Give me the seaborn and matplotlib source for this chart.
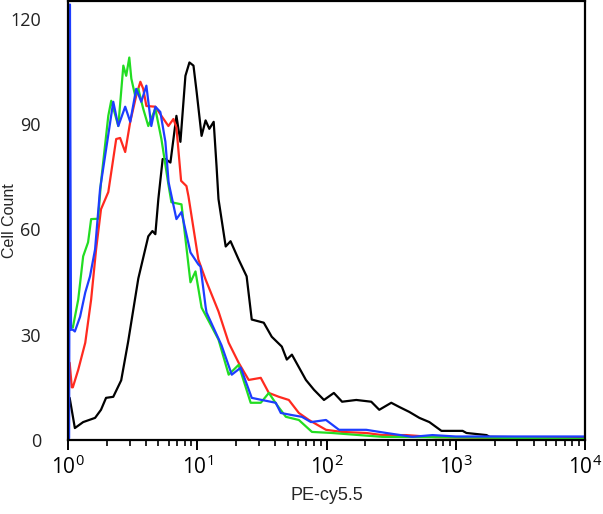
import matplotlib
matplotlib.use("Agg")
import matplotlib.pyplot as plt
import matplotlib.ticker as mticker
import pandas as pd
import seaborn as sns

# histogram traces: (PE-cy5.5 intensity, cell count)
black_x = [1.03, 1.13, 1.31, 1.62, 1.80, 1.97, 2.24, 2.58, 2.92, 3.50, 4.18, 4.50, 4.74,
           5.00, 5.40, 5.67, 6.20, 6.90, 7.41, 8.10, 8.70, 9.35, 9.90, 10.8, 11.6, 12.4,
           13.4, 14.1, 14.6, 16.6, 18.1, 20.9, 24.1, 26.4, 32.7, 37.7, 45.1, 49.3, 54.0,
           69.3, 80.0, 95.6, 114, 132, 170, 222, 256, 317, 366, 437, 523, 625, 775, 1130,
           1210, 1730, 1830, 10000]
black_y = [12, 3.4, 5.1, 6.3, 8.6, 12, 12.3, 17, 28, 46, 58, 59.5, 58.6,
           68.6, 80, 80, 79, 92.3, 84.9, 103.7, 107.5, 106.6, 99, 86.6, 91, 88.6,
           90.6, 78, 68.6, 55.1, 56.6, 51.4, 46.6, 34.3, 33.4, 29.4, 26.6, 22.9, 24.3,
           17.1, 14.3, 11.4, 13.4, 10.9, 11.4, 10.9, 8.6, 10.6, 9.4, 8.0, 6.3, 5.1, 2.6, 2.6,
           2.0, 1.4, 0.9, 0.6]

red_x = [1.03, 1.07, 1.09, 1.20, 1.36, 1.51, 1.65, 1.80, 2.05, 2.36, 2.53, 2.77, 3.03,
         3.37, 3.63, 3.82, 4.04, 4.74, 5.28, 5.98, 6.54, 6.90, 7.50, 8.25, 8.55, 10.2,
         11.6, 14.6, 17.5, 20.9, 25.0, 31.0, 35.8, 42.8, 51.1, 61.1, 73.1, 99.1, 132,
         203, 270, 414, 700, 2000, 10000]
red_y = [22, 15, 15, 20, 27.7, 40, 54.3, 65.7, 70.6, 85.7, 86, 82, 90.6,
         98, 102, 100, 95.1, 94.9, 92.3, 89.4, 91.4, 89, 73.8, 72.3, 69.4, 51.4,
         45.7, 36.6, 27.7, 22, 17.1, 17.7, 13.4, 12.3, 11.4, 7.7, 5.7, 2.9, 2.3,
         2.0, 1.4, 1.4, 0.8, 0.6, 0.4]

green_x = [1.06, 1.09, 1.20, 1.31, 1.43, 1.51, 1.71, 1.80, 2.05, 2.16, 2.45, 2.68, 2.82,
           2.98, 3.09, 3.31, 3.50, 3.82, 4.18, 4.74, 5.28, 5.98, 6.31, 7.55, 8.86, 9.69,
           10.8, 14.6, 17.5, 20.9, 25.9, 31.0, 35.8, 41.3, 48.5, 61.1, 77.2, 110, 179,
           270, 600, 1500, 10000]
green_y = [32.3, 32, 40, 52.3, 56.3, 62.9, 63, 73.4, 92.3, 96.6, 89.4, 106.6, 103.7,
           108.9, 102.9, 98, 100, 94.3, 89.4, 94.3, 85.7, 72.8, 67.7, 67.1, 44.9, 48,
           37.7, 28.6, 18.6, 21.4, 10.6, 10.6, 13.4, 10, 6.6, 5.7, 2.3, 2.0, 1.4,
           0.9, 0.8, 0.7, 0.3]

blue_x = [1.02, 1.035, 1.055, 1.09, 1.13, 1.24, 1.36, 1.48, 1.62, 1.77, 2.24, 2.45, 2.77,
          3.03, 3.37, 3.69, 4.04, 4.41, 4.74, 5.18, 5.67, 6.00, 6.90, 7.55, 8.86, 10.2,
          10.6, 11.6, 11.8, 15.4, 18.5, 21.7, 26.4, 31.6, 40.5, 44.3, 54.0, 64.5, 75.8,
          99.1, 125, 203, 290, 461, 660, 1000, 10000]
blue_y = [0.5, 124, 31.4, 31.4, 30.9, 35.1, 42, 46.6, 54.3, 71.4, 96.3, 89.4, 94.9,
          90.6, 100, 96.3, 100.9, 89.4, 94.9, 93.4, 84.9, 73.4, 62.9, 64.9, 53.4, 50,
          49.4, 38, 36.3, 27, 18.6, 20.6, 12, 11.4, 10.6, 7.7, 7.1, 6.6, 5.1,
          5.7, 2.9, 2.9, 2.0, 0.9, 1.4, 1.0, 1.0]

series = [("black", black_x, black_y, "#000000"),
          ("red", red_x, red_y, "#ff2a1f"),
          ("green", green_x, green_y, "#22dd22"),
          ("blue", blue_x, blue_y, "#1d3dff")]

sns.set_style("white", {"xtick.bottom": True, "ytick.left": False,
                        "xtick.color": "black", "axes.edgecolor": "black"})
plt.rcParams["font.family"] = ["Open Sans", "DejaVu Sans"]
plt.rcParams["xtick.minor.visible"] = True

fig = plt.figure(figsize=(6.03, 5.14), dpi=100)
ax = fig.add_axes([68 / 603, 74 / 514, 517 / 603, 439 / 514])

for name, xs, ys, col in series:
    df = pd.DataFrame({"x": xs, "y": ys})
    sns.lineplot(data=df, x="x", y="y", ax=ax, color=col, linewidth=1.6,
                 estimator=None, sort=False)

ax.set_xscale("log")
ax.set_xlim(1, 10000)
ax.set_ylim(0, 125)
ax.xaxis.set_major_locator(mticker.LogLocator(base=10, numticks=10))
ax.xaxis.set_minor_locator(mticker.LogLocator(base=10, subs=range(2, 10), numticks=20))
ax.tick_params(axis="x", which="major", direction="out", length=7, width=1.4,
               pad=4, labelsize=15, bottom=True, top=False, color="black")
ax.tick_params(axis="x", which="minor", direction="out", length=4.5, width=1.2,
               bottom=True, top=False, color="black")

ax.set_yticks([0, 30, 60, 90, 120])
ax.tick_params(axis="y", which="both", left=False, pad=16, labelsize=13,
               labelcolor="#222222")

for s in ax.spines.values():
    s.set_color("black")
    s.set_linewidth(1.6)

ax.set_xlabel("PE-cy5.5", fontsize=13, family=["Liberation Sans"], labelpad=6)
ax.set_ylabel("Cell Count", fontsize=11.5, family=["Liberation Sans"])
ax.yaxis.set_label_coords(-0.099, 0.5)

fig.savefig("out.png", dpi=100)
